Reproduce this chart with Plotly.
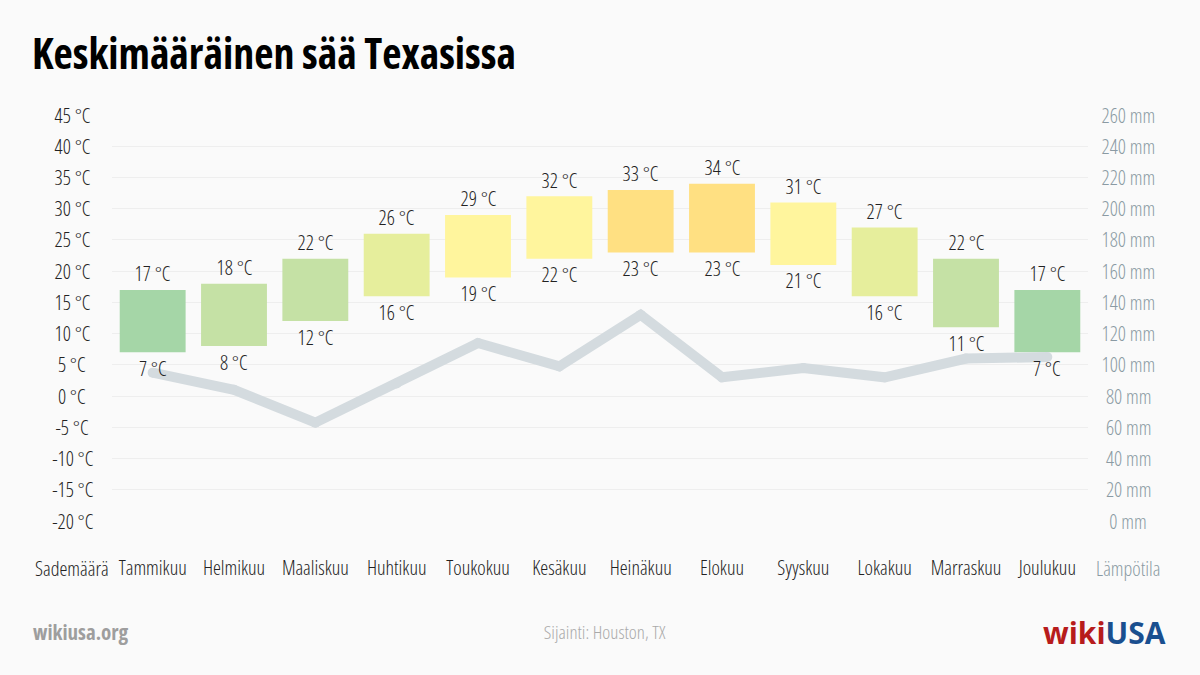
import plotly.graph_objects as go

months = ["Tammikuu", "Helmikuu", "Maaliskuu", "Huhtikuu", "Toukokuu", "Kesäkuu",
          "Heinäkuu", "Elokuu", "Syyskuu", "Lokakuu", "Marraskuu", "Joulukuu"]
temp_high = [17, 18, 22, 26, 29, 32, 33, 34, 31, 27, 22, 17]
temp_low = [7, 8, 12, 16, 19, 22, 23, 23, 21, 16, 11, 7]
precip = [95, 84, 63, 88, 114, 99, 132, 92, 98, 92, 104, 105]
bar_colors = ["#a5d6a7", "#c5e1a5", "#c5e1a5", "#e6ee9c", "#fff59d", "#fff59d",
              "#ffe082", "#ffe082", "#fff59d", "#e6ee9c", "#c5e1a5", "#a5d6a7"]
temp_ticks = list(range(-20, 50, 5))
precip_ticks = list(range(0, 280, 20))

FONT = "Open Sans, sans-serif"
LIGHT = 300
FS = 20

L, R, T, B = 112, 112, 115, 154
W, H = 1200, 675
pw, ph = W - L - R, H - T - B


def px(x):
    return (x - L) / pw


def py(y):
    return (H - B - y) / ph


fig = go.Figure()

fig.add_trace(go.Scatter(
    x=months, y=precip, yaxis="y2", mode="lines+markers",
    line=dict(color="#d4dbdf", width=10),
    marker=dict(color="#d4dbdf", size=10, line=dict(width=0)),
    hoverinfo="skip", showlegend=False,
))

fig.add_trace(go.Bar(
    x=months, y=[h - l for h, l in zip(temp_high, temp_low)], base=temp_low,
    marker=dict(color=bar_colors, line=dict(width=0)),
    width=0.81, hoverinfo="skip", showlegend=False,
))

annotations = []
for m, h, l in zip(months, temp_high, temp_low):
    annotations.append(dict(x=m, y=h, xref="x", yref="y", text=f"{h} °C", showarrow=False,
                            yshift=16, font=dict(size=FS, color="#222222", family=FONT, weight=LIGHT)))
    annotations.append(dict(x=m, y=l, xref="x", yref="y", text=f"{l} °C", showarrow=False,
                            yshift=-16, font=dict(size=FS, color="#222222", family=FONT, weight=LIGHT)))

for t in temp_ticks:
    annotations.append(dict(x=px(72), y=t, xref="paper", yref="y", text=f"{t} °C", showarrow=False,
                            xanchor="center", font=dict(size=FS, color="#222222", family=FONT, weight=LIGHT)))
for t in precip_ticks:
    annotations.append(dict(x=px(1128), y=t, xref="paper", yref="y2", text=f"{t} mm", showarrow=False,
                            xanchor="center", font=dict(size=FS, color="#8a9aa3", family=FONT, weight=LIGHT)))

annotations += [
    dict(x=px(30), y=py(52), xref="paper", yref="paper", text="<b>Keskimääräinen sää Texasissa</b>",
         showarrow=False, xanchor="left", yanchor="middle", align="left",
         font=dict(size=42, color="#000000", family=FONT)),
    dict(x=px(72), y=py(568), xref="paper", yref="paper", text="Sademäärä", showarrow=False,
         xanchor="center", yanchor="middle",
         font=dict(size=FS, color="#222222", family=FONT, weight=LIGHT)),
    dict(x=px(1128), y=py(568), xref="paper", yref="paper", text="Lämpötila", showarrow=False,
         xanchor="center", yanchor="middle",
         font=dict(size=FS, color="#8a9aa3", family=FONT, weight=LIGHT)),
    dict(x=px(31), y=py(632), xref="paper", yref="paper", text="<b>wikiusa.org</b>", showarrow=False,
         xanchor="left", yanchor="middle", align="left",
         font=dict(size=21, color="#9e9e9e", family=FONT)),
    dict(x=px(605), y=py(632), xref="paper", yref="paper", text="Sijainti: Houston, TX", showarrow=False,
         xanchor="center", yanchor="middle",
         font=dict(size=19, color="#aaaaaa", family=FONT, weight=LIGHT)),
    dict(x=px(1168), y=py(632), xref="paper", yref="paper",
         text="<b><span style='font-stretch:100%;color:#b71c1c'>wiki</span>"
              "<span style='font-stretch:100%;color:#1a4f8f'>USA</span></b>",
         showarrow=False, xanchor="right", yanchor="middle", align="right",
         font=dict(size=30, color="#1a4f8f", family=FONT)),
]

fig.update_layout(
    width=W, height=H,
    margin=dict(l=L, r=R, t=T, b=B),
    paper_bgcolor="#fafafa", plot_bgcolor="#fafafa",
    font=dict(family=FONT, size=FS, color="#222222", weight=LIGHT),
    annotations=annotations,
    xaxis=dict(
        type="category", range=[-0.5, len(months) - 0.5],
        showgrid=False, zeroline=False, showline=False,
        ticks="outside", ticklen=29, tickcolor="rgba(0,0,0,0)", tickangle=0,
        tickfont=dict(size=FS, color="#222222", family=FONT, weight=LIGHT),
        fixedrange=True,
    ),
    yaxis=dict(
        range=[-20, 45], tickvals=temp_ticks, showticklabels=False,
        showgrid=True, gridcolor="#eeeeee", gridwidth=1, zeroline=False, showline=False,
        fixedrange=True,
    ),
    yaxis2=dict(
        range=[0, 260], tickvals=precip_ticks, showticklabels=False,
        overlaying="y", side="right", showgrid=False, zeroline=False, showline=False,
        fixedrange=True,
    ),
)

post = """
var s = document.createElement('style');
s.innerHTML = 'html,body{margin:0;padding:0;background:#fafafa;overflow:hidden;} svg text{font-stretch:75% !important;}';
document.head.appendChild(s);
"""
fig.write_html("out.html", post_script=post, config={"displayModeBar": False})
